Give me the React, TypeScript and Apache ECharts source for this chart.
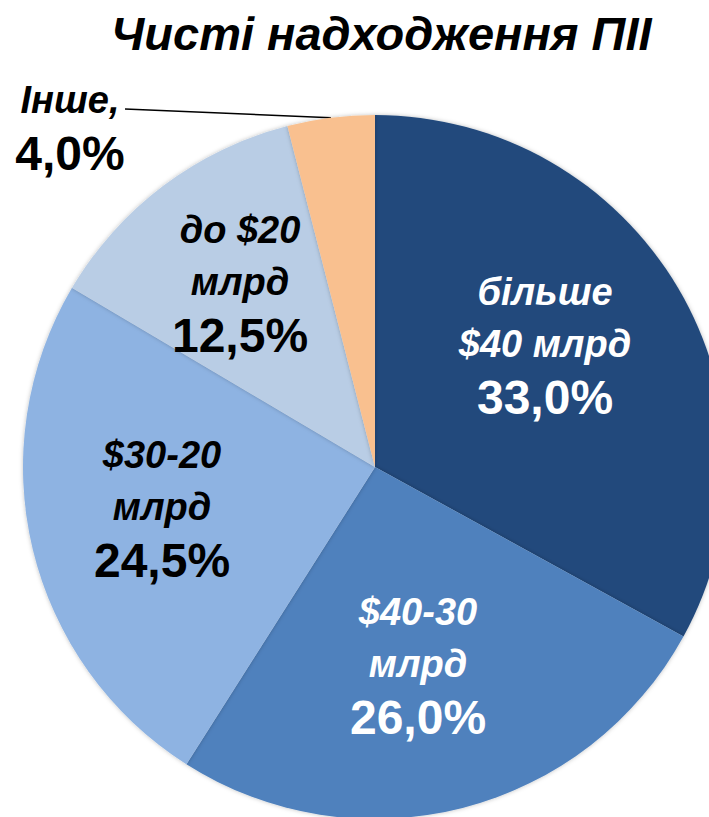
import React, { useEffect, useRef } from "react";
import * as echarts from "echarts";

const titleText = "Чисті надходження ПІІ";
const categories = ["більше $40 млрд", "$40-30 млрд", "$30-20 млрд", "до $20 млрд", "Інше"];
const labelLines = [["більше", "$40 млрд"], ["$40-30", "млрд"], ["$30-20", "млрд"], ["до $20", "млрд"], ["Інше,"]];
const shares = [33.0, 26.0, 24.5, 12.5, 4.0];
const colors = ["#21497C", "#4F81BD", "#8EB3E2", "#B9CDE5", "#F9C08F"];
const labelColors = ["#FFFFFF", "#FFFFFF", "#000000", "#000000", "#000000"];
const labelCenters = [[545, 345], [418, 665], [162, 508], [240, 283], [70, 127]];

const FONT = "'Liberation Sans', Arial, Helvetica, sans-serif";

export default function App() {
  const ref = useRef<HTMLDivElement>(null);
  useEffect(() => {
    if (!ref.current) return;
    const chart = echarts.init(ref.current, null, { renderer: "svg" });
    const data = categories.map((name, i) => ({
      name,
      value: shares[i],
      itemStyle: { color: colors[i] },
      label: {
        color: labelColors[i],
        position: i === 4 ? "outside" : "inside",
      },
      labelLine: i === 4 ? { show: true } : { show: false },
    }));
    chart.setOption({
      animation: false,
      title: {
        text: titleText,
        left: 106,
        top: 5,
        textStyle: {
          fontFamily: FONT,
          fontSize: 47,
          fontWeight: "bold",
          fontStyle: "italic",
          color: "#000",
        },
      },
      series: [
        {
          type: "pie",
          center: [375, 467],
          radius: [0, 352],
          startAngle: 90,
          clockwise: true,
          avoidLabelOverlap: false,
          data,
          itemStyle: {
            borderWidth: 0,
            shadowBlur: 4,
            shadowColor: "rgba(0,0,0,0.25)",
          },
          label: {
            show: true,
            fontFamily: FONT,
            formatter: (p: any) => {
              const lines = labelLines[p.dataIndex].map((l) => `{a|${l}}`);
              const pct = shares[p.dataIndex].toFixed(1).replace(".", ",") + "%";
              return [...lines, `{b|${pct}}`].join("\n");
            },
            rich: {
              a: {
                fontFamily: FONT,
                fontSize: 38,
                fontWeight: "bold",
                fontStyle: "italic",
                lineHeight: 52,
                align: "center",
              },
              b: {
                fontFamily: FONT,
                fontSize: 48,
                fontWeight: "bold",
                lineHeight: 54,
                align: "center",
              },
            },
          },
          labelLine: {
            lineStyle: { color: "#000", width: 1.5 },
            length: 10,
            length2: 10,
          },
          labelLayout: (params: any) => {
            const c = labelCenters[params.dataIndex];
            const res: any = {
              x: c[0],
              y: c[1],
              align: "center",
              verticalAlign: "middle",
            };
            if (params.dataIndex === 4 && params.labelLinePoints) {
              const p0 = params.labelLinePoints[0];
              res.labelLinePoints = [p0, [125, 109], [125, 109]];
            }
            return res;
          },
        },
      ],
    });
    return () => chart.dispose();
  }, []);
  return (
    <div
      ref={ref}
      style={{ position: "fixed", left: 0, top: 0, width: 709, height: 817, background: "#fff" }}
    />
  );
}
